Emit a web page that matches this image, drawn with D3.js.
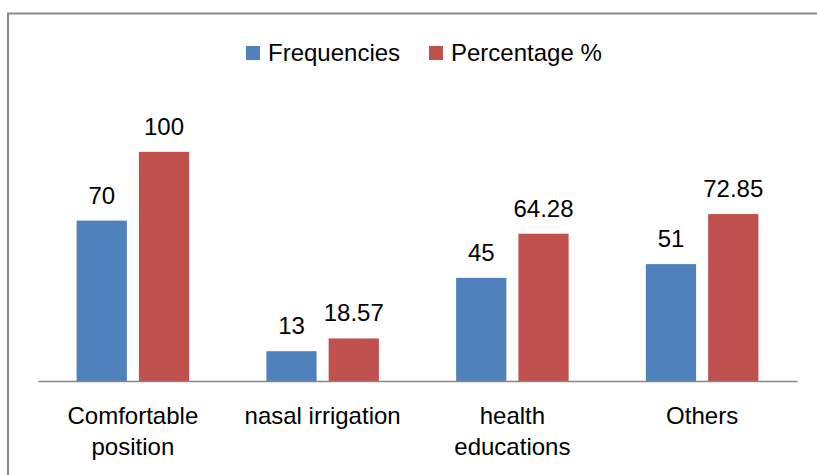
<!DOCTYPE html>
<html>
<head>
<meta charset="utf-8">
<script src="https://cdn.jsdelivr.net/npm/d3@7"></script>
<style>
  body { margin: 0; background: #fff; }
  svg { display: block; font-family: 'Liberation Sans', Arial, sans-serif; }
</style>
</head>
<body>
<svg id="chart" width="817" height="475"></svg>
<script>
// chart data
const categories = ['Comfortable position', 'nasal irrigation', 'health educations', 'Others'];
const tickLines = [['Comfortable', 'position'], ['nasal irrigation'], ['health', 'educations'], ['Others']];
const seriesNames = ['Frequencies', 'Percentage %'];
const frequencies = [70, 13, 45, 51];
const percentages = [100, 18.57, 64.28, 72.85];
const seriesLabels = [['70', '13', '45', '51'], ['100', '18.57', '64.28', '72.85']];
const colors = ['#4F81BD', '#C0504D'];

const svg = d3.select('#chart');
const width = +svg.attr('width');
const height = +svg.attr('height');

// outer frame (only left and top visible in the picture)
svg.append('path')
  .attr('d', `M8,${height} V13.5 H${width}`)
  .attr('fill', 'none')
  .attr('stroke', '#8a8a8a')
  .attr('stroke-width', 2);

const plot = { left: 38, right: 797, top: 106, bottom: 381 };

const x = d3.scaleBand()
  .domain(categories)
  .range([plot.left, plot.right])
  .padding(0);

const xs = d3.scaleBand()
  .domain(seriesNames)
  .range([0, x.bandwidth()])
  .paddingInner(0.1935)
  .paddingOuter(0.62);

const y = d3.scaleLinear()
  .domain([0, 120])
  .range([plot.bottom, plot.top]);

const rows = categories.map((c, i) => ({
  category: c,
  values: [frequencies[i], percentages[i]],
  labels: [seriesLabels[0][i], seriesLabels[1][i]],
}));

const groups = svg.append('g')
  .selectAll('g')
  .data(rows)
  .enter().append('g')
  .attr('transform', d => `translate(${x(d.category)},0)`);

const bars = groups.selectAll('g')
  .data(d => seriesNames.map((s, j) => ({ series: s, value: d.values[j], label: d.labels[j], j })))
  .enter().append('g');

bars.append('rect')
  .attr('x', d => xs(d.series))
  .attr('width', xs.bandwidth())
  .attr('y', d => y(d.value))
  .attr('height', d => y(0) - y(d.value))
  .attr('fill', d => colors[d.j]);

bars.append('text')
  .attr('x', d => xs(d.series) + xs.bandwidth() / 2)
  .attr('y', d => y(d.value) - 17)
  .attr('text-anchor', 'middle')
  .attr('font-size', 24)
  .attr('fill', '#000')
  .text(d => d.label);

// category axis
const xAxis = d3.axisBottom(x).tickSize(0).tickPadding(0);
const axisG = svg.append('g')
  .attr('transform', `translate(0,${plot.bottom})`)
  .call(xAxis);

axisG.select('.domain')
  .attr('stroke', '#868686')
  .attr('stroke-width', 1.5);

axisG.selectAll('.tick text').remove();
axisG.selectAll('.tick')
  .append('text')
  .attr('fill', '#000')
  .attr('font-size', 24)
  .attr('font-family', "'Liberation Sans', Arial, sans-serif")
  .attr('text-anchor', 'middle')
  .selectAll('tspan')
  .data((d, i) => tickLines[i])
  .enter().append('tspan')
  .attr('x', 0)
  .attr('y', (d, i) => 43 + i * 31)
  .text(d => d);

// legend
const legendX = [246, 429];
const legend = svg.append('g')
  .selectAll('g')
  .data(seriesNames)
  .enter().append('g')
  .attr('transform', (d, i) => `translate(${legendX[i]},46)`);

legend.append('rect')
  .attr('width', 14)
  .attr('height', 14)
  .attr('fill', (d, i) => colors[i]);

legend.append('text')
  .attr('x', 22)
  .attr('y', 15)
  .attr('font-size', 24)
  .attr('fill', '#000')
  .text(d => d);
</script>
</body>
</html>
